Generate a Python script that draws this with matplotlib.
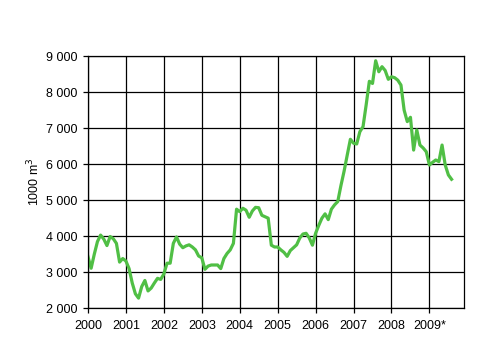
import numpy as np
import matplotlib
matplotlib.use('Agg')
from matplotlib import pyplot as plt
from matplotlib.ticker import FuncFormatter

plt.rcParams['font.family'] = ['Liberation Sans', 'DejaVu Sans']

### DATA: monthly values, Jan 2000 - Aug 2009 (1000 m3) ###
values = [3430, 3110, 3500, 3850, 4030, 3920, 3740, 3990, 3930, 3800, 3280, 3380,  # 2000
          3310, 3100, 2700, 2400, 2280, 2600, 2770, 2480, 2560, 2700, 2830, 2800,  # 2001
          2950, 3250, 3250, 3800, 3980, 3780, 3680, 3730, 3760, 3700, 3620, 3450,  # 2002
          3400, 3080, 3170, 3200, 3200, 3200, 3100, 3380, 3520, 3620, 3800, 4750,  # 2003
          4680, 4775, 4720, 4525, 4700, 4800, 4790, 4580, 4540, 4500, 3750, 3700,  # 2004
          3700, 3620, 3550, 3440, 3600, 3680, 3760, 3950, 4060, 4080, 3950, 3750,  # 2005
          4080, 4300, 4500, 4620, 4460, 4750, 4870, 4960, 5400, 5800, 6250, 6690,  # 2006
          6580, 6560, 6900, 7040, 7650, 8300, 8240, 8870, 8565, 8705, 8600, 8355,  # 2007
          8425, 8400, 8330, 8195, 7500, 7180, 7300, 6390, 6950, 6530, 6450, 6345,  # 2008
          5975, 6050, 6115, 6070, 6530, 5975, 5700, 5580]                          # 2009
year_labels = ['2000', '2001', '2002', '2003', '2004', '2005', '2006', '2007', '2008', '2009*']
y_ticks = [2000, 3000, 4000, 5000, 6000, 7000, 8000, 9000]

months = np.arange(len(values))

fig = plt.figure(figsize=(4.97, 3.44), dpi=100)
ax = fig.add_axes([0.177, 0.104, 0.757, 0.733])

ax.plot(months, values, color='#50bf45', lw=2.3, solid_joinstyle='round')

ax.set_xlim(0, 119)
ax.set_ylim(2000, 9000)
ax.set_xticks(np.arange(0, 120, 12))
ax.set_xticklabels(year_labels)
ax.set_yticks(y_ticks)
ax.yaxis.set_major_formatter(FuncFormatter(lambda v, p: '{:,.0f}'.format(v).replace(',', ' ')))

ax.grid(True, color='black', lw=0.9)
ax.set_axisbelow(True)
for s in ax.spines.values():
    s.set_color('black')
    s.set_linewidth(0.9)
ax.tick_params(direction='out', length=3.5, width=0.9, colors='black', labelsize=9)
ax.tick_params(axis='x', pad=5)
ax.tick_params(axis='y', pad=4)

ax.set_ylabel('1000 m$^3$', fontsize=9, labelpad=3)

fig.savefig('out.png', dpi=100)
